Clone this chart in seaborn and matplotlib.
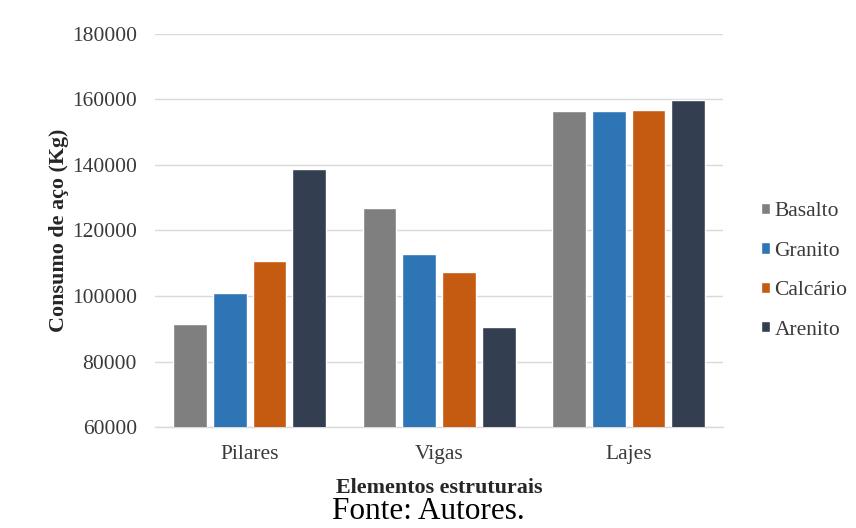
import matplotlib
matplotlib.use("Agg")
import matplotlib.pyplot as plt
import seaborn as sns
import pandas as pd

# Steel consumption per structural element, by aggregate type
elementos = ["Pilares", "Vigas", "Lajes"]
agregados = ["Basalto", "Granito", "Calcário", "Arenito"]
basalto = [91500, 127000, 156400]
granito = [100800, 112800, 156500]
calcario = [110800, 107200, 156900]
arenito = [138800, 90500, 159800]
cores = ["#7f7f7f", "#2e75b6", "#c55a11", "#333f50"]
y_ticks = [60000, 80000, 100000, 120000, 140000, 160000, 180000]

series = [basalto, granito, calcario, arenito]
rows = []
for nome, valores in zip(agregados, series):
    for elem, v in zip(elementos, valores):
        rows.append({"Elemento": elem, "Agregado": nome, "Consumo": v})
df = pd.DataFrame(rows)

sns.set_style("white")
plt.rcParams["font.family"] = ["Liberation Serif", "DejaVu Serif"]

fig = plt.figure(figsize=(8.56, 5.28), dpi=100)
ax = fig.add_axes([0.181, 0.191, 0.664, 0.745])

sns.barplot(data=df, x="Elemento", y="Consumo", hue="Agregado",
            order=elementos, hue_order=agregados, palette=cores,
            width=0.84, gap=0.15, saturation=1, ax=ax, zorder=3)

ax.set_ylim(y_ticks[0], y_ticks[-1])
ax.set_yticks(y_ticks)
ax.set_yticklabels([str(t) for t in y_ticks])
ax.yaxis.grid(True, color="#d9d9d9", linewidth=1.0, zorder=0)
ax.set_axisbelow(True)
for s in ["top", "right", "left"]:
    ax.spines[s].set_visible(False)
ax.spines["bottom"].set_color("#d9d9d9")
ax.spines["bottom"].set_linewidth(1.0)
ax.tick_params(axis="both", length=0, labelsize=15.5, labelcolor="#3a3a3a")
ax.tick_params(axis="y", pad=13)
ax.tick_params(axis="x", pad=13)

ax.set_ylabel("Consumo de aço (Kg)", fontsize=15.8, fontweight="bold", labelpad=2)
ax.set_xlabel("Elementos estruturais", fontsize=15.8, fontweight="bold", labelpad=10)

handles, labels = ax.get_legend_handles_labels()
ax.legend(handles, labels, loc="center left", bbox_to_anchor=(0.889, 0.487),
          bbox_transform=fig.transFigure, frameon=False, fontsize=15.5,
          handlelength=0.42, handleheight=0.42, handletextpad=0.2,
          labelspacing=0.95, labelcolor="#3a3a3a", borderaxespad=0,
          borderpad=0)

fig.text(0.5, 0.031, "Fonte: Autores.", ha="center", va="center", fontsize=22.5,
         color="black")

fig.savefig("out.png", dpi=100, facecolor="white")
